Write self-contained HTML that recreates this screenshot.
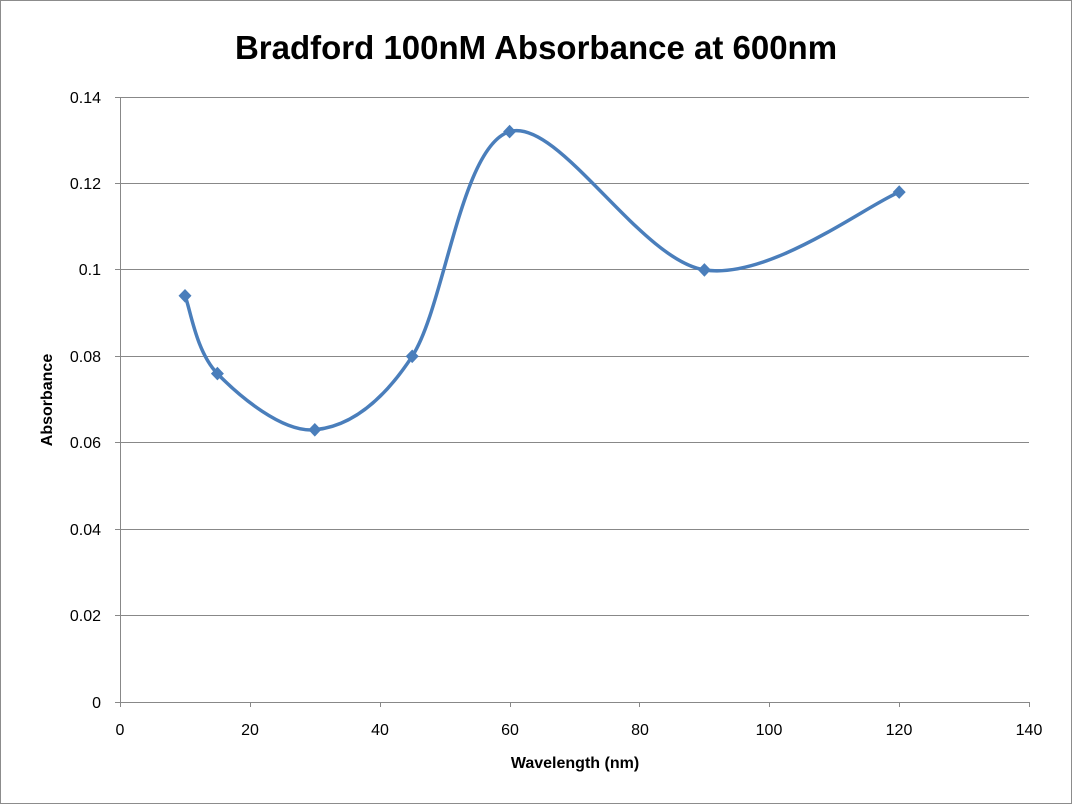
<!DOCTYPE html>
<html><head><style>
html,body{margin:0;padding:0;background:#fff;}
</style></head><body>
<svg width="1072" height="804" xmlns="http://www.w3.org/2000/svg" font-family="Liberation Sans, sans-serif">
<rect x="0.5" y="0.5" width="1071" height="803" fill="#fff" stroke="#8c8c8c"/>
<text x="536" y="59" text-anchor="middle" font-size="33" font-weight="bold" fill="#000">Bradford 100nM Absorbance at 600nm</text>
<g stroke="#888" stroke-width="1">
<line x1="120" y1="97.5" x2="1029" y2="97.5"/>
<line x1="120" y1="183.5" x2="1029" y2="183.5"/>
<line x1="120" y1="269.5" x2="1029" y2="269.5"/>
<line x1="120" y1="356.5" x2="1029" y2="356.5"/>
<line x1="120" y1="442.5" x2="1029" y2="442.5"/>
<line x1="120" y1="529.5" x2="1029" y2="529.5"/>
<line x1="120" y1="615.5" x2="1029" y2="615.5"/>
<line x1="120" y1="702.5" x2="1029" y2="702.5"/>
<line x1="120.5" y1="97" x2="120.5" y2="702"/>
</g>
<g stroke="#888">
<line x1="115" y1="97.5" x2="120" y2="97.5"/><line x1="115" y1="183.5" x2="120" y2="183.5"/><line x1="115" y1="269.5" x2="120" y2="269.5"/><line x1="115" y1="356.5" x2="120" y2="356.5"/><line x1="115" y1="442.5" x2="120" y2="442.5"/><line x1="115" y1="529.5" x2="120" y2="529.5"/><line x1="115" y1="615.5" x2="120" y2="615.5"/><line x1="115" y1="702.5" x2="120" y2="702.5"/>
<line x1="120.5" y1="702" x2="120.5" y2="707"/><line x1="250.5" y1="702" x2="250.5" y2="707"/><line x1="380.5" y1="702" x2="380.5" y2="707"/><line x1="510.5" y1="702" x2="510.5" y2="707"/><line x1="639.5" y1="702" x2="639.5" y2="707"/><line x1="769.5" y1="702" x2="769.5" y2="707"/><line x1="899.5" y1="702" x2="899.5" y2="707"/><line x1="1029.5" y1="702" x2="1029.5" y2="707"/>
</g>
<g font-size="16" fill="#000" text-anchor="end">
<text x="101" y="103">0.14</text><text x="101" y="189">0.12</text><text x="101" y="275">0.1</text><text x="101" y="362">0.08</text><text x="101" y="448">0.06</text><text x="101" y="535">0.04</text><text x="101" y="621">0.02</text><text x="101" y="708">0</text>
</g>
<g font-size="16" fill="#000" text-anchor="middle">
<text x="120" y="735">0</text><text x="250" y="735">20</text><text x="380" y="735">40</text><text x="510" y="735">60</text><text x="640" y="735">80</text><text x="769" y="735">100</text><text x="899" y="735">120</text><text x="1029" y="735">140</text>
</g>
<text x="575" y="768" text-anchor="middle" font-size="16" font-weight="bold">Wavelength (nm)</text>
<text transform="translate(52,400) rotate(-90)" text-anchor="middle" font-size="16" font-weight="bold">Absorbance</text>
<path d="M185,295.8 C190.4,308.8 195.8,351.3 217.4,373.6 C239,395.9 282.3,432.7 314.8,429.8 C347.3,426.9 379.7,406 412.2,356.3 C444.7,306.6 460.9,146 509.6,131.6 C558.3,117.2 639.5,259.8 704.4,269.9 C769.3,280 866.7,205.1 899.2,192.1" fill="none" stroke="#4a7ebb" stroke-width="3.5"/>
<g fill="#4a7ebb">
<path d="M185,289 l6.5,6.8 -6.5,6.8 -6.5,-6.8z"/>
<path d="M217.4,366.8 l6.5,6.8 -6.5,6.8 -6.5,-6.8z"/>
<path d="M314.8,423 l6.5,6.8 -6.5,6.8 -6.5,-6.8z"/>
<path d="M412.2,349.5 l6.5,6.8 -6.5,6.8 -6.5,-6.8z"/>
<path d="M509.6,124.8 l6.5,6.8 -6.5,6.8 -6.5,-6.8z"/>
<path d="M704.4,263.1 l6.5,6.8 -6.5,6.8 -6.5,-6.8z"/>
<path d="M899.2,185.3 l6.5,6.8 -6.5,6.8 -6.5,-6.8z"/>
</g>
</svg>
</body></html>
